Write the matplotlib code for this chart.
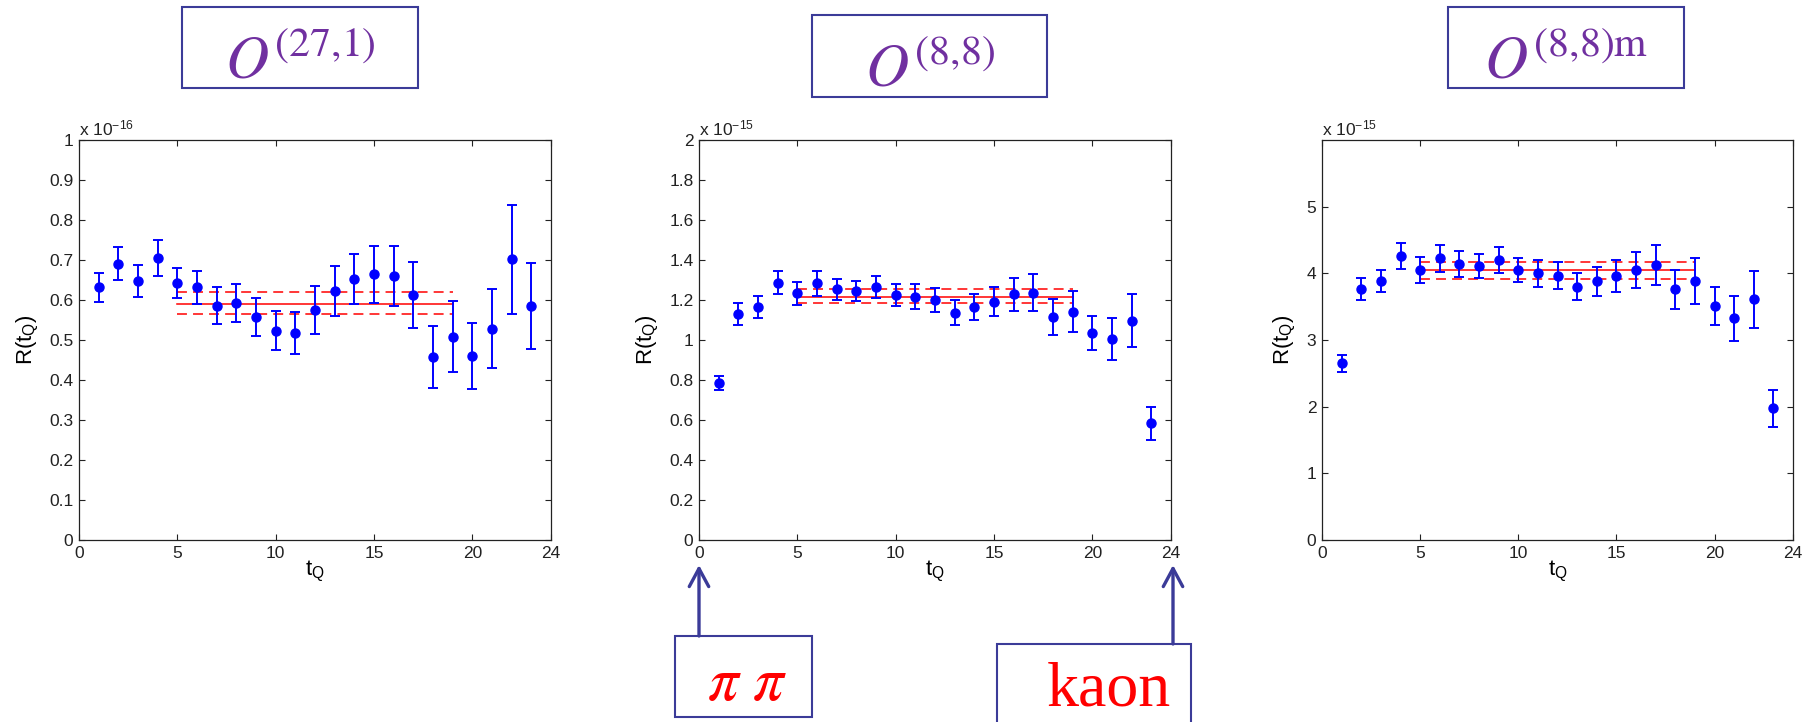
import numpy as np
import matplotlib.pyplot as plt
from matplotlib.patches import Rectangle
from matplotlib.ticker import FuncFormatter

plt.rcParams["font.family"] = "Liberation Sans"
plt.rcParams["mathtext.fontset"] = "custom"
plt.rcParams["mathtext.rm"] = "Liberation Sans"
plt.rcParams["mathtext.it"] = "Liberation Sans:italic"
plt.rcParams["mathtext.bf"] = "Liberation Sans:bold"

W, H = 1818, 722

t_q = np.arange(1, 24)
fit_range = [5, 19]
x_ticks = [0, 5, 10, 15, 20, 24]

# O(27,1) ratio, units of 1e-16
r27 = [0.632, 0.691, 0.648, 0.704, 0.642, 0.632, 0.586, 0.592, 0.558, 0.523,
       0.518, 0.575, 0.623, 0.652, 0.664, 0.661, 0.613, 0.458, 0.508, 0.460,
       0.528, 0.702, 0.585]
r27_err = [0.036, 0.042, 0.040, 0.045, 0.038, 0.041, 0.047, 0.047, 0.047, 0.049,
           0.053, 0.060, 0.062, 0.062, 0.071, 0.075, 0.083, 0.078, 0.089, 0.083,
           0.099, 0.136, 0.108]
fit27 = [0.591, 0.564, 0.619]   # central, lower, upper

# O(8,8) ratio, units of 1e-15
r88 = [0.783, 1.128, 1.167, 1.287, 1.233, 1.283, 1.253, 1.243, 1.265, 1.227,
       1.217, 1.200, 1.137, 1.163, 1.192, 1.228, 1.237, 1.117, 1.142, 1.033,
       1.003, 1.097, 0.583]
r88_err = [0.035, 0.055, 0.055, 0.056, 0.057, 0.061, 0.052, 0.050, 0.053, 0.055,
           0.062, 0.062, 0.062, 0.065, 0.072, 0.083, 0.092, 0.090, 0.104, 0.085,
           0.105, 0.133, 0.082]
fit88 = [1.215, 1.183, 1.253]

# O(8,8)m ratio, units of 1e-15
r88m = [2.650, 3.765, 3.890, 4.260, 4.050, 4.225, 4.140, 4.110, 4.200, 4.050,
        4.000, 3.965, 3.800, 3.880, 3.965, 4.050, 4.125, 3.760, 3.885, 3.510,
        3.325, 3.610, 1.975]
r88m_err = [0.130, 0.170, 0.163, 0.190, 0.190, 0.200, 0.190, 0.180, 0.190, 0.180,
            0.205, 0.200, 0.205, 0.218, 0.240, 0.275, 0.295, 0.288, 0.345, 0.288,
            0.338, 0.425, 0.280]
fit88m = [4.050, 3.915, 4.165]

titles = [r"$O^{(27{,}1)}$", r"$O^{(8{,}8)}$", r"$O^{(8{,}8)\mathrm{m}}$"]
exponents = [r"x 10$^{-16}$", r"x 10$^{-15}$", r"x 10$^{-15}$"]

BOX_EDGE = "#3B3B98"
PURPLE = "#7030A0"


def fx(x):
    return x / W


def fy(y):
    return 1 - y / H


def px_axes(fig, left, top, right, bottom):
    return fig.add_axes([fx(left), fy(bottom), (right - left) / W, (bottom - top) / H])


def draw_panel(ax, vals, errs, fit, ymax, yticks, exponent):
    ax.errorbar(t_q, vals, yerr=errs, fmt="o", color="#0000FF", ms=6.5,
                elinewidth=1.4, capsize=3.6, capthick=1.4, zorder=3)
    c, lo, hi = fit
    ax.plot(fit_range, [c, c], color="#FF0000", lw=1.1, zorder=2)
    for v in (lo, hi):
        ax.plot(fit_range, [v, v], color="#FF0000", lw=1.1, ls=(0, (6.5, 4)), zorder=2)

    ax.set_xlim(0, 24)
    ax.set_ylim(0, ymax)
    ax.set_xticks(x_ticks)
    ax.set_yticks(yticks)
    ax.yaxis.set_major_formatter(FuncFormatter(lambda v, p: f"{v:g}"))
    ax.tick_params(direction="in", length=4, width=0.8, top=True, right=True,
                   labelsize=12.5, pad=4, colors="#222222")
    for s in ax.spines.values():
        s.set_linewidth(0.9)
        s.set_color("#222222")

    ax.set_xlabel(r"t$_\mathrm{Q}$", fontsize=16, labelpad=-1)
    ax.set_ylabel(r"R(t$_\mathrm{Q}$)", fontsize=16, labelpad=6)
    ax.text(0, 1.0125, exponent, transform=ax.transAxes, ha="left",
            va="baseline", fontsize=12.5, color="#222222")


def title_box(fig, left, top, right, bottom, label, baseline):
    fig.patches.append(Rectangle((fx(left), fy(bottom)), (right - left) / W,
                                 (bottom - top) / H, transform=fig.transFigure,
                                 facecolor="white", edgecolor=BOX_EDGE, lw=1.5))
    fig.text(fx((left + right) / 2), fy(baseline), label, ha="center",
             va="baseline", fontsize=43, color=PURPLE, math_fontfamily="stix")


fig = plt.figure(figsize=(W / 100, H / 100), dpi=100)

ax1 = px_axes(fig, 79, 140, 551, 540)
ax2 = px_axes(fig, 699, 140, 1171, 540)
ax3 = px_axes(fig, 1322, 140, 1793, 540)

draw_panel(ax1, r27, r27_err, fit27, 1, np.round(np.arange(0, 1.01, 0.1), 1), exponents[0])
draw_panel(ax2, r88, r88_err, fit88, 2, np.round(np.arange(0, 2.01, 0.2), 1), exponents[1])
draw_panel(ax3, r88m, r88m_err, fit88m, 6, [0, 1, 2, 3, 4, 5], exponents[2])

# operator labels above each panel
title_box(fig, 182, 7, 418, 88, titles[0], 78)
title_box(fig, 812, 15, 1047, 97, titles[1], 86)
title_box(fig, 1448, 7, 1684, 88, titles[2], 78)

# source / sink markers under the middle panel
fig.patches.append(Rectangle((fx(675), fy(717)), 137 / W, 81 / H,
                             transform=fig.transFigure, facecolor="white",
                             edgecolor=BOX_EDGE, lw=1.5))
fig.text(fx(707), fy(700), r"$\pi\ \pi$", ha="left", va="baseline",
         fontsize=44, color="#FF0000", math_fontfamily="stix")

fig.patches.append(Rectangle((fx(997), fy(760)), 194 / W, 116 / H,
                             transform=fig.transFigure, facecolor="white",
                             edgecolor=BOX_EDGE, lw=1.5))
fig.text(fx(1047), fy(706), "kaon", ha="left", va="baseline",
         fontsize=46, color="#FF0000", family="Liberation Serif")

# arrows from the boxes up to t_Q = 0 and t_Q = 24
arrow = dict(arrowstyle="->,head_length=1.3,head_width=0.7", color=BOX_EDGE,
             lw=2.4, shrinkA=0, shrinkB=0, mutation_scale=10)
fig.add_artist(plt.Annotation("", xy=(fx(699), fy(565)), xytext=(fx(699), fy(636)),
                              xycoords="figure fraction", arrowprops=arrow))
fig.add_artist(plt.Annotation("", xy=(fx(1173), fy(565)), xytext=(fx(1173), fy(644)),
                              xycoords="figure fraction", arrowprops=arrow))

fig.savefig("out.png", dpi=100)
